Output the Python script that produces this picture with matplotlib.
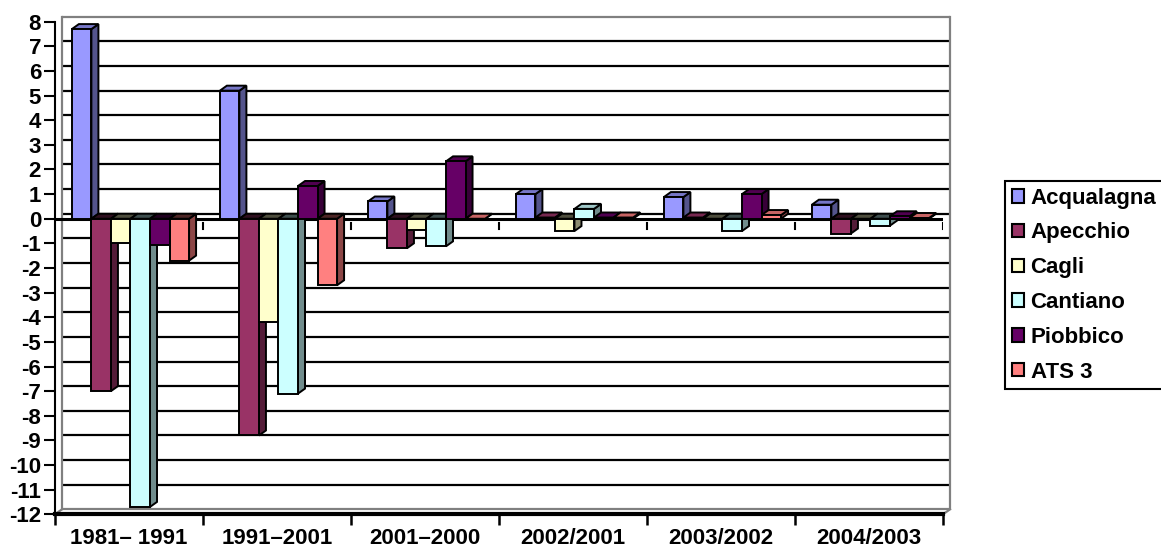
import matplotlib
matplotlib.use("Agg")
import matplotlib.pyplot as plt
import numpy as np
from matplotlib.patches import Polygon, Patch

# data
periods = ["1981\u2013 1991", "1991\u20132001", "2001\u20132000",
           "2002/2001", "2003/2002", "2004/2003"]
series = ["Acqualagna", "Apecchio", "Cagli", "Cantiano", "Piobbico", "ATS 3"]
acqualagna = [7.7, 5.2, 0.7, 1.0, 0.88, 0.57]
apecchio   = [-7.0, -8.8, -1.2, 0.05, 0.05, -0.6]
cagli      = [-1.0, -4.2, -0.47, -0.5, -0.05, -0.03]
cantiano   = [-11.7, -7.1, -1.12, 0.4, -0.5, -0.28]
piobbico   = [-1.05, 1.33, 2.33, 0.05, 1.0, 0.1]
ats3       = [-1.7, -2.7, 0.0, 0.05, 0.15, 0.03]
values = [acqualagna, apecchio, cagli, cantiano, piobbico, ats3]
colors = ["#9999FF", "#993366", "#FFFFCC", "#CCFFFF", "#660066", "#FF8080"]
yticks = list(range(-12, 9))

FONT = "Liberation Sans"
FS = 16
W, H = 1161, 549
fig = plt.figure(figsize=(W / 100, H / 100), dpi=100)
ax = fig.add_axes([55 / W, 1 - 514.3 / H, 888 / W, 492.6 / H])
ax.set_xlim(-0.5, 5.5)
ax.set_ylim(-12, 8)

# depth of the fake 3D effect, in data units (~7 px right, ~5 px up)
dx = 7 / 148
dy = 5 / 24.63


def shade(c, f):
    r, g, b = matplotlib.colors.to_rgb(c)
    return (r * f, g * f, b * f)


# back wall gridlines
for t in yticks:
    gc = "#808080" if t in (-12, 8) else "black"
    ax.plot([-0.5 + dx, 5.5 + dx], [t + dy, t + dy], color=gc, lw=1.6,
            clip_on=False, zorder=1, solid_capstyle="butt")
# walls
ax.plot([-0.5 + dx, -0.5 + dx], [-12 + dy, 8 + dy], color="#808080", lw=1.6,
        clip_on=False, zorder=1)
ax.plot([5.5 + dx, 5.5 + dx], [-12 + dy, 8 + dy], color="#808080", lw=1.6,
        clip_on=False, zorder=1)
ax.plot([5.5, 5.5 + dx], [-12, -12 + dy], color="#808080", lw=1.6,
        clip_on=False, zorder=1)
ax.plot([-0.5, -0.5 + dx], [-12, -12 + dy], color="#808080", lw=1.6,
        clip_on=False, zorder=1)

# category axis at zero with its small ticks
ax.plot([-0.5, 5.5], [0, 0], color="black", lw=2.2, zorder=2)
for b in range(1, 7):
    ax.plot([b - 0.5, b - 0.5], [-0.17, -0.42], color="black", lw=1.5, zorder=2)

bw = 0.132
for j, (vals, c) in enumerate(zip(values, colors)):
    for i, v in enumerate(vals):
        x0 = i + (j - 3) * bw + 0.01
        x1 = x0 + bw
        z = 3 + j * 0.01 + i
        lo, hi = min(v, 0), max(v, 0)
        side = Polygon([(x1, lo), (x1 + dx, lo + dy), (x1 + dx, hi + dy), (x1, hi)],
                       closed=True, fc=shade(c, 0.55), ec="black", lw=1.4,
                       zorder=z, clip_on=False)
        top = Polygon([(x0, hi), (x1, hi), (x1 + dx, hi + dy), (x0 + dx, hi + dy)],
                      closed=True, fc=shade(c, 0.78) if v >= 0 else shade(c, 0.3),
                      ec="black", lw=1.4, zorder=z, clip_on=False)
        ax.add_patch(side)
        ax.add_patch(top)
        ax.bar(x0, hi - lo, bottom=lo, width=bw, align="edge", color=c,
               edgecolor="black", linewidth=1.4, zorder=z)

for s in ["top", "right"]:
    ax.spines[s].set_visible(False)
ax.spines["left"].set_linewidth(1.5)
ax.spines["bottom"].set_linewidth(3)

ax.set_yticks(yticks)
ax.set_yticklabels([str(t) for t in yticks], fontsize=FS, fontweight="bold",
                   family=FONT)
ax.tick_params(axis="y", length=8, width=1.5, pad=2)

ax.set_xticks(range(6))
ax.set_xticklabels(periods, fontsize=FS, fontweight="bold", family=FONT)
ax.tick_params(axis="x", which="major", length=0, pad=10)
ax.set_xticks(np.arange(-0.5, 6, 1), minor=True)
ax.tick_params(axis="x", which="minor", length=8, width=1.8)

handles = [Patch(facecolor=c, edgecolor="black", linewidth=1.5) for c in colors]
leg = fig.legend(handles, series, loc="upper left",
                 bbox_to_anchor=(1005 / W, 1 - 181 / H), borderaxespad=0,
                 frameon=True, fancybox=False, framealpha=1, edgecolor="black",
                 handlelength=0.55, handleheight=0.55, handletextpad=0.3,
                 labelspacing=0.62, borderpad=0.3,
                 prop={"family": FONT, "weight": "bold", "size": FS})
leg.get_frame().set_linewidth(1.5)

fig.savefig("out.png", dpi=100)
